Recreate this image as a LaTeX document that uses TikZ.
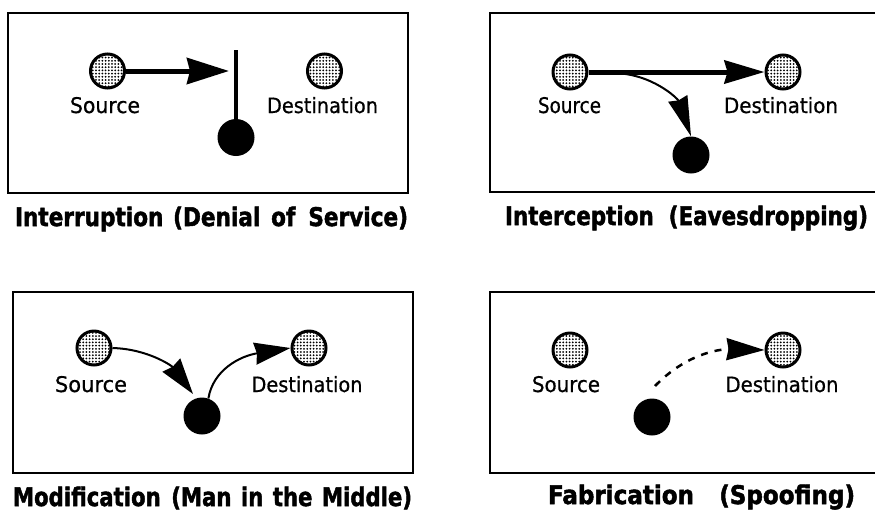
\documentclass[tikz,border=0pt]{standalone}
\usepackage{fontspec}
\setmainfont{DejaVu Sans}
\newfontfamily\labfont[FakeBold=0.7]{DejaVu Sans}
\newfontfamily\ttlfont[FakeBold=2]{DejaVu Sans}
\usetikzlibrary{arrows.meta,patterns.meta}
\tikzset{
  panel/.style={draw=black, line width=2pt},
  endpt/.style={circle, draw=black, line width=3pt, minimum size=34pt, inner sep=0pt,
    preaction={fill=white}, pattern={Dots[distance=3.2pt, radius=1pt]}, pattern color=black},
  rogue/.style={circle, fill=black, minimum size=37pt, inner sep=0pt},
  lab/.style={anchor=base, inner sep=0pt, font=\labfont},
  ttl/.style={anchor=base, inner sep=0pt, font=\fontsize{26}{30}\ttlfont\bfseries},
  mainflow/.style={line width=5pt, -{Stealth[length=42pt, width=26pt, inset=3pt]}},
  sideflow/.style={line width=2pt, -{Stealth[length=36pt, width=22pt, inset=2pt]}},
  cut/.style={line width=4pt},
  fake/.style={line width=2.5pt, dash pattern=on 7pt off 7pt, -{Stealth[length=38pt, width=22pt, inset=2pt]}},
}
\begin{document}
\begin{tikzpicture}[x=1pt, y=-1pt]
\clip (0,0) rectangle (875,512);
\fill[white] (0,0) rectangle (875,512);

% --- Interruption ---
\draw[panel] (8,13) rectangle (408,193);
\node[endpt] (s1) at (107.5,71) {};
\node[endpt] (d1) at (324.5,71) {};
\node[rogue] (a1) at (236,137.5) {};
\coordinate (b1) at (236,50);
\coordinate (t1) at (229,71);
\draw[cut] (b1) -- (a1.center);
\draw[mainflow] (s1) -- (t1);
\node[lab] (ls1) at (105,113) {\resizebox{70pt}{16pt}{Source}};
\node[lab] (ld1) at (322.5,113) {\resizebox{111pt}{16pt}{Destination}};
\node[ttl] (h1) at (211.5,226)
  {\resizebox{393pt}{19.5pt}{Interruption\hspace{.45em}(Denial\hspace{.5em}of\hspace{.6em}Service)}};

% --- Interception ---
\draw[panel] (490,13) rectangle (900,192);
\node[endpt] (s2) at (570,72) {};
\node[endpt] (d2) at (783,72) {};
\node[rogue] (a2) at (691,155) {};
\draw[line width=5pt, -{Stealth[length=40pt, width=23pt, inset=3pt]}] (s2) -- (d2);
\coordinate (c2) at (612,73);
\draw[line width=2pt, -{Stealth[length=40pt, width=20pt, inset=2pt]}]
  (c2) .. controls (652,73) and (678,99) .. (a2.north);
\node[lab] (ls2) at (569.5,113) {\resizebox{63pt}{16pt}{Source}};
\node[lab] (ld2) at (781,113) {\resizebox{114pt}{16pt}{Destination}};
\node[ttl] (h2) at (686.5,225)
  {\resizebox{363pt}{19.5pt}{Interception\hspace{.7em}(Eavesdropping)}};

% --- Modification ---
\draw[panel] (13,292) rectangle (413,473);
\node[endpt] (s3) at (94,348) {};
\node[endpt] (d3) at (309,348) {};
\node[rogue] (a3) at (202,416) {};
\coordinate (t3) at (193,394);
\draw[sideflow] (s3.east) .. controls (148,349) and (172,366) .. (t3);
\draw[sideflow] (a3.70) .. controls (213,370) and (240,356) .. (d3.west);
\node[lab] (ls3) at (91,392) {\resizebox{72pt}{16pt}{Source}};
\node[lab] (ld3) at (307,392) {\resizebox{111pt}{16pt}{Destination}};
\node[ttl] (h3) at (212.5,506)
  {\resizebox{399pt}{19.5pt}{Modification\hspace{.5em}(Man\hspace{.45em}in\hspace{.45em}the\hspace{.45em}Middle)}};

% --- Fabrication ---
\draw[panel] (490,292) rectangle (900,473);
\node[endpt] (s4) at (570,350) {};
\node[endpt] (d4) at (783,350) {};
\node[rogue] (a4) at (652,417) {};
\coordinate (f4) at (655,386);
\draw[fake] (f4) .. controls (686,354) and (719,349) .. (d4.west);
\node[lab] (ls4) at (566,392) {\resizebox{68pt}{16pt}{Source}};
\node[lab] (ld4) at (782,392) {\resizebox{113pt}{16pt}{Destination}};
\node[ttl] (h4) at (701.5,504)
  {\resizebox{307pt}{19.5pt}{Fabrication\hspace{1.1em}(Spoofing)}};
\end{tikzpicture}
\end{document}
